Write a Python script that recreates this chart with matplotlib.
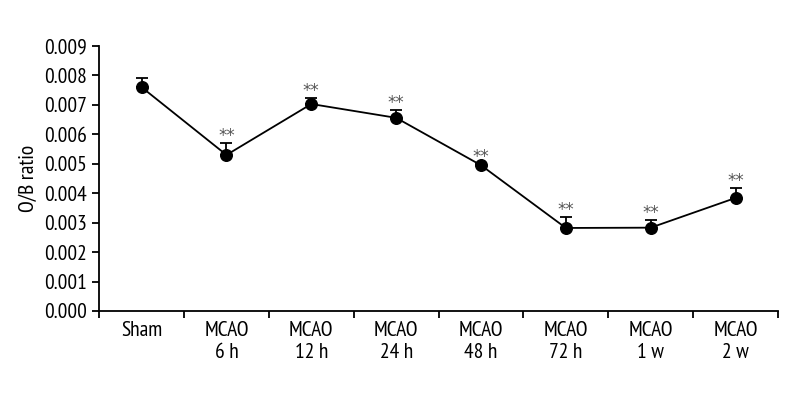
import matplotlib
matplotlib.use("Agg")
import matplotlib.pyplot as plt
import numpy as np
from matplotlib import font_manager

groups = ["Sham", "MCAO\n6 h", "MCAO\n12 h", "MCAO\n24 h", "MCAO\n48 h", "MCAO\n72 h", "MCAO\n1 w", "MCAO\n2 w"]
ratio = [0.00760, 0.00530, 0.00703, 0.00656, 0.00495, 0.00282, 0.00283, 0.00384]
err = [0.00030, 0.00040, 0.00020, 0.00027, 0.00005, 0.00038, 0.00026, 0.00034]
signif = ["", "**", "**", "**", "**", "**", "**", "**"]
yticks = [0.000, 0.001, 0.002, 0.003, 0.004, 0.005, 0.006, 0.007, 0.008, 0.009]

# narrow humanist font, close to the condensed face of the original
names = {f.name for f in font_manager.fontManager.ttflist}
family = "DejaVu Sans"
for cand in ["PT Sans Narrow", "Roboto Condensed", "Open Sans Condensed", "Liberation Sans Narrow"]:
    if cand in names:
        family = cand
        break
plt.rcParams["font.family"] = [family, "DejaVu Sans"]

fig = plt.figure(figsize=(8, 4), dpi=100)
ax = fig.add_axes([0.124, 0.2225, 0.8485, 0.6625])

x = np.arange(len(groups)) + 0.5
ax.plot(x, ratio, color="black", lw=1.3, zorder=2)
ax.errorbar(x, ratio, yerr=[np.zeros(len(err)), err], fmt="none", ecolor="black",
            elinewidth=1.3, capsize=4, capthick=1.3, zorder=3)
ax.scatter(x, ratio, s=70, color="black", zorder=4)

for xi, yi, e, s in zip(x, ratio, err, signif):
    if s:
        ax.annotate(s, (xi, yi + e), xytext=(0, 1.5), textcoords="offset points",
                    ha="center", va="baseline", fontsize=12, color="#555555",
                    family="DejaVu Sans")

ax.set_xlim(0, len(groups))
ax.set_ylim(0, 0.009)
ax.set_yticks(yticks)
ax.set_yticklabels([f"{t:.3f}" for t in yticks])
ax.set_xticks(np.arange(len(groups) + 1))
ax.set_xticklabels([])
ax.set_xticks(x, minor=True)
ax.set_xticklabels(groups, minor=True)
ax.tick_params(axis="x", which="minor", length=0, pad=7, labelsize=15.5)
ax.tick_params(axis="x", which="major", direction="out", length=5, width=1.3)
ax.tick_params(axis="y", direction="out", length=5, width=1.3, labelsize=15.5, pad=4)
ax.set_ylabel("O/B ratio", fontsize=15.5, labelpad=4)

ax.spines["top"].set_visible(False)
ax.spines["right"].set_visible(False)
ax.spines["left"].set_linewidth(1.3)
ax.spines["bottom"].set_linewidth(1.3)

fig.savefig("out.png", dpi=100)
